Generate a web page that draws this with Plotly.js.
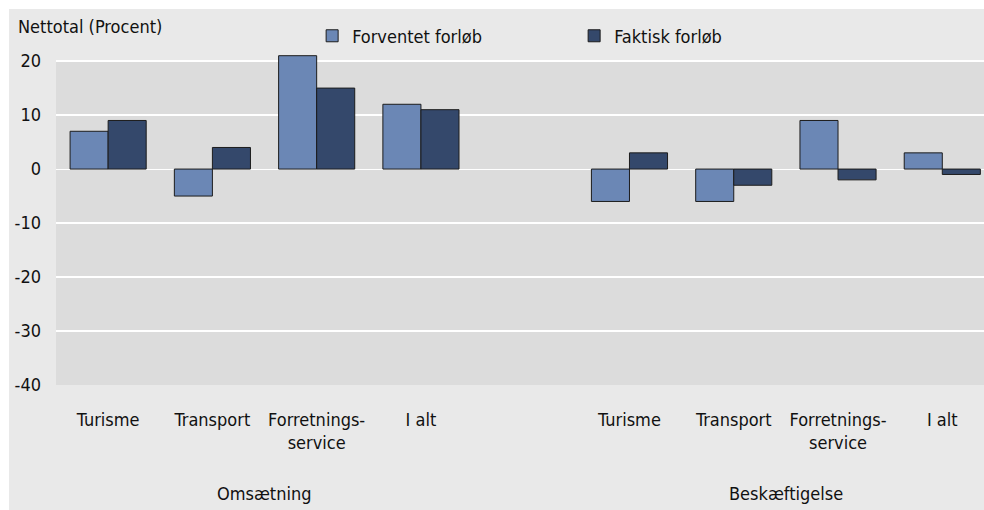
<!DOCTYPE html>
<html>
<head>
<meta charset="utf-8">
<script src="https://cdn.plot.ly/plotly-3.0.1.min.js"></script>
<style>
  html, body { margin: 0; padding: 0; background: #ffffff; }
  #chart { position: absolute; left: 9px; top: 9px; width: 975px; height: 501px; }
</style>
</head>
<body>
<div id="chart"></div>
<script>
// ---- data ----
const categories = ['Turisme', 'Transport', 'Forretnings-<br>service', 'I alt'];
const groups = ['Omsætning', 'Beskæftigelse'];
const seriesNames = ['Forventet forløb', 'Faktisk forløb'];
const forventetOmsaetning = [7, -5, 21, 12];
const faktiskOmsaetning = [9, 4, 15, 11];
const forventetBeskaeftigelse = [-6, -6, 9, 3];
const faktiskBeskaeftigelse = [3, -3, -2, -1];
const yTicks = [20, 10, 0, -10, -20, -30, -40];
const yTickText = ['20', '10', '0', '-10', '-20', '-30', '-40'];
const yTitle = 'Nettotal (Procent)';

// ---- positions: categories per group, with one empty slot between groups ----
const slot = categories.length + 1;
const xPos = [];
const xText = [];
groups.forEach((g, gi) => categories.forEach((c, ci) => { xPos.push(gi * slot + ci); xText.push(c); }));

const forventet = forventetOmsaetning.concat(forventetBeskaeftigelse);
const faktisk = faktiskOmsaetning.concat(faktiskBeskaeftigelse);

const FONT = '"DejaVu Sans Condensed", "Liberation Sans Narrow", sans-serif';
const FS = 18;

const traces = [
  { type: 'bar', name: seriesNames[0], x: xPos, y: forventet,
    marker: { color: '#6b87b5', line: { color: '#1c1c1c', width: 1 } } },
  { type: 'bar', name: seriesNames[1], x: xPos, y: faktisk,
    marker: { color: '#34486b', line: { color: '#1c1c1c', width: 1 } } }
];

const groupAnn = groups.map((g, gi) => ({
  text: g, xref: 'x', yref: 'paper',
  x: gi * slot + (categories.length - 1) / 2, y: -0.328,
  xanchor: 'center', yanchor: 'middle', showarrow: false,
  font: { family: FONT, size: FS, color: '#111111' }
}));

const layout = {
  width: 975, height: 501,
  margin: { l: 47, r: 0, t: 44, b: 125 },
  paper_bgcolor: '#e9e9e9',
  plot_bgcolor: '#e9e9e9',
  font: { family: FONT, size: FS, color: '#111111' },
  barmode: 'group',
  bargap: 0.27,
  bargroupgap: 0,
  showlegend: true,
  legend: {
    orientation: 'h', xref: 'paper', yref: 'paper',
    x: 0.276, y: 1.051, xanchor: 'left', yanchor: 'middle',
    bgcolor: 'rgba(0,0,0,0)', entrywidth: 217, entrywidthmode: 'pixels',
    font: { family: FONT, size: FS, color: '#111111' }
  },
  xaxis: {
    range: [-0.5, 8.4],
    tickmode: 'array', tickvals: xPos, ticktext: xText,
    showgrid: false, zeroline: false, showline: false, ticks: '',
    ticklabelstandoff: 22, fixedrange: true
  },
  yaxis: {
    range: [-40, 21.5],
    tickmode: 'array', tickvals: yTicks, ticktext: yTickText,
    showgrid: true, gridcolor: '#ffffff', gridwidth: 2,
    zeroline: true, zerolinecolor: '#ffffff', zerolinewidth: 1,
    showline: false, ticks: '', ticklabelstandoff: 14, fixedrange: true
  },
  shapes: [
    { type: 'rect', xref: 'paper', yref: 'y', x0: 0, x1: 1, y0: yTicks[yTicks.length - 1], y1: yTicks[0],
      fillcolor: '#dcdcdc', line: { width: 0 }, layer: 'below' }
  ],
  annotations: [
    { text: yTitle, xref: 'paper', yref: 'paper', x: -0.043, y: 1.081,
      xanchor: 'left', yanchor: 'middle', showarrow: false,
      font: { family: FONT, size: FS, color: '#111111' } }
  ].concat(groupAnn)
};

Plotly.newPlot('chart', traces, layout, { displayModeBar: false, staticPlot: true });
</script>
</body>
</html>
